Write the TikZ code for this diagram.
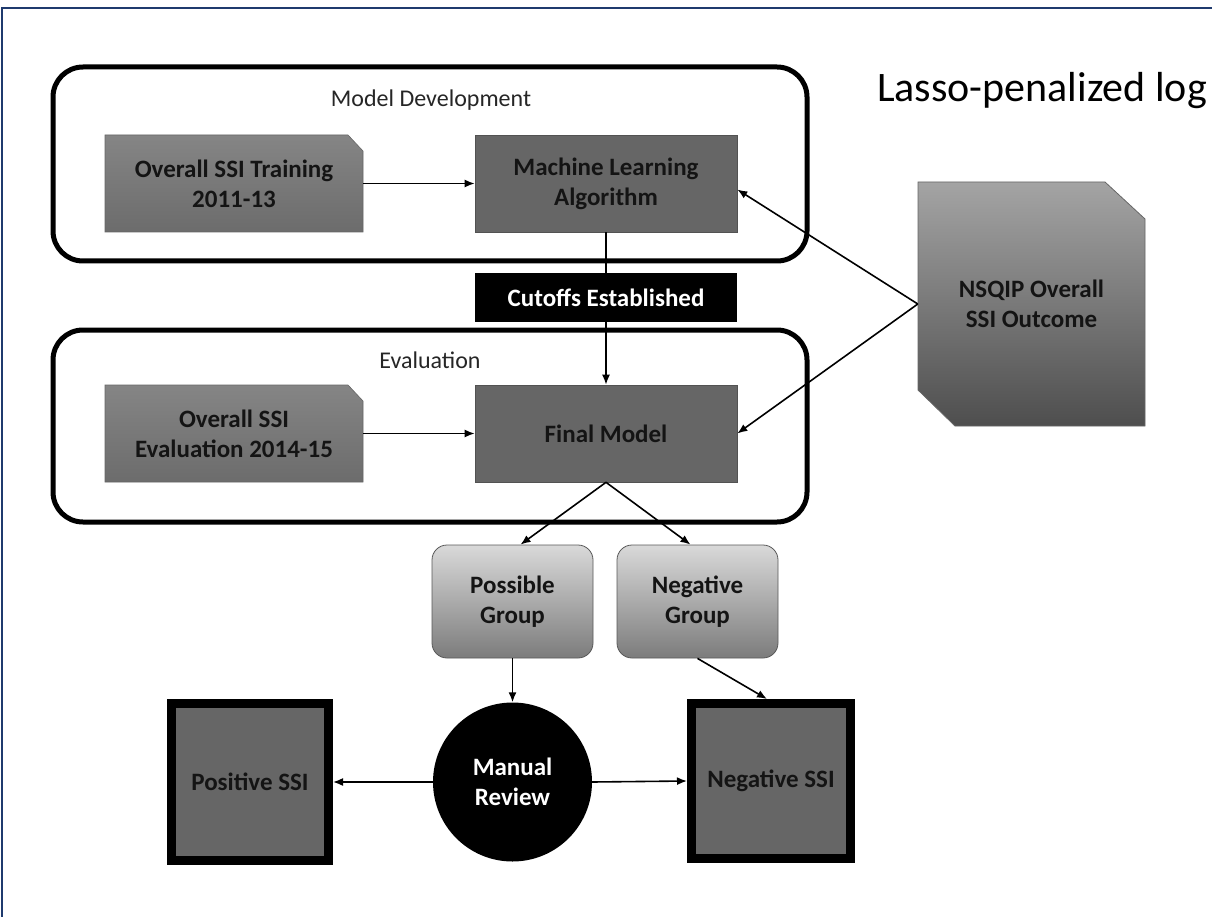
\documentclass[tikz,border=0pt]{standalone}
\usepackage{fontspec}
\setmainfont{Carlito}
\usetikzlibrary{arrows.meta,calc}
\definecolor{navy}{HTML}{1F3A6E}
\definecolor{boxgray}{HTML}{666666}
\definecolor{txt}{HTML}{141414}
\definecolor{intop}{HTML}{858585}
\definecolor{inbot}{HTML}{6C6C6C}
\definecolor{nstop}{HTML}{A4A4A4}
\definecolor{nsbot}{HTML}{4E4E4E}
\definecolor{grtop}{HTML}{D9D9D9}
\definecolor{grbot}{HTML}{7C7C7C}
\tikzset{
  container/.style={draw=black, line width=5pt, rounded corners=30pt, fill=none},
  darkbox/.style={fill=boxgray, draw=boxgray!80!black, line width=0.6pt, font=\bfseries\fontsize{25}{30}\selectfont, text=txt, align=center},
  txtnode/.style={font=\bfseries\fontsize{25}{30}\selectfont, text=txt, align=center, inner sep=0pt},
  groupbox/.style={top color=grtop, bottom color=grbot, draw=black!65, line width=0.8pt, rounded corners=15pt, font=\bfseries\fontsize{25}{30}\selectfont, text=txt, align=center},
  resultbox/.style={fill=boxgray, draw=black, line width=9pt, font=\bfseries\fontsize{25}{30}\selectfont, text=txt, align=center},
  conn/.style={draw=black, line width=1.6pt, -{Latex[length=10pt,width=8pt]}},
  grouplabel/.style={font=\fontsize{24}{28}\selectfont, text=black!85},
}
\begin{document}
\begin{tikzpicture}[x=1pt,y=-1pt]
\useasboundingbox (0,0) rectangle (1212,917);
\fill[white] (0,0) rectangle (1212,917);
% outer border
\draw[navy, line width=2.5pt] (2,917) -- (2,8) -- (1212,8);

% chamfered input boxes (shapes)
\shade[top color=intop, bottom color=inbot, draw=black!60, line width=0.6pt]
  (105,135) -- (348,135) -- (363,151) -- (363,232) -- (105,232) -- cycle;
\shade[top color=intop, bottom color=inbot, draw=black!60, line width=0.6pt]
  (105,385) -- (348,385) -- (363,401) -- (363,482) -- (105,482) -- cycle;
\shade[top color=nstop, bottom color=nsbot, draw=black!60, line width=0.8pt]
  (918,182) -- (1105,182) -- (1145,219) -- (1145,426) -- (955,426) -- (918,390) -- cycle;

% nodes
\node[txtnode] (train) at (234,183.5) [minimum width=258pt, minimum height=97pt] {Overall SSI Training\\2011-13};
\node[txtnode] (evalin) at (234,433.5) [minimum width=258pt, minimum height=97pt] {Overall SSI\\Evaluation 2014-15};
\node[txtnode] (nsqip) at (1031.5,304) [minimum width=227pt, minimum height=244pt] {NSQIP Overall\\SSI Outcome};

\node[darkbox, minimum width=262pt, minimum height=97pt, inner sep=0pt] (ml) at (606,183.5) {Machine Learning\\Algorithm};
\node[darkbox, minimum width=262pt, minimum height=97pt, inner sep=0pt] (final) at (606,433.5) {Final Model};

\node[groupbox, minimum width=161pt, minimum height=113pt, inner sep=0pt] (poss) at (512.5,601.5) {Possible\\Group};
\node[groupbox, minimum width=161pt, minimum height=113pt, inner sep=0pt] (neg) at (697.5,601.5) {Negative\\Group};

\node[circle, fill=black, minimum size=159pt, inner sep=0pt, text=white, font=\bfseries\fontsize{25}{30}\selectfont, align=center] (review) at (512.5,782) {Manual\\Review};

\node[resultbox, minimum width=157pt, minimum height=157pt, inner sep=0pt] (pos) at (250,782) {Positive SSI};
\node[resultbox, minimum width=159pt, minimum height=155pt, inner sep=0pt] (negssi) at (771,781) {Negative SSI};

% connectors behind cutoffs box
\draw[conn] (ml.south) -- (final.north);

\node[fill=black, text=white, font=\bfseries\fontsize{25}{30}\selectfont, minimum width=262pt, minimum height=49pt, inner sep=0pt] (cut) at (606,297.5) {Cutoffs Established};

% containers
\node[container, minimum width=754pt, minimum height=194pt] (mdbox) at (430,164) {};
\node[container, minimum width=754pt, minimum height=192pt] (evbox) at (430,426) {};
\node[grouplabel] (mdlabel) at (431,100) {Model Development};
\node[grouplabel] (evlabel) at (430,360) {Evaluation};

% other connectors
\draw[conn] (train.east) -- (ml.west);
\draw[conn] (evalin.east) -- (final.west);
\draw[conn] (nsqip.west) -- ([yshift=-6pt]ml.east);
\draw[conn] (nsqip.west) -- (final.east);
\draw[conn] (final.south) -- ([xshift=8pt]poss.north);
\draw[conn] (final.south) -- ([xshift=-7pt]neg.north);
\draw[conn] (poss.south) -- (review.north);
\draw[conn] (neg.south) -- ([xshift=-4pt]negssi.north);
\draw[conn] (review.west) -- (pos.east);
\draw[conn] (review.east) -- (negssi.west);

% heading text
\node[anchor=base west, inner sep=0pt, font=\fontsize{42}{48}\selectfont] (lasso) at (877,102) {Lasso-penalized log};
\end{tikzpicture}
\end{document}
